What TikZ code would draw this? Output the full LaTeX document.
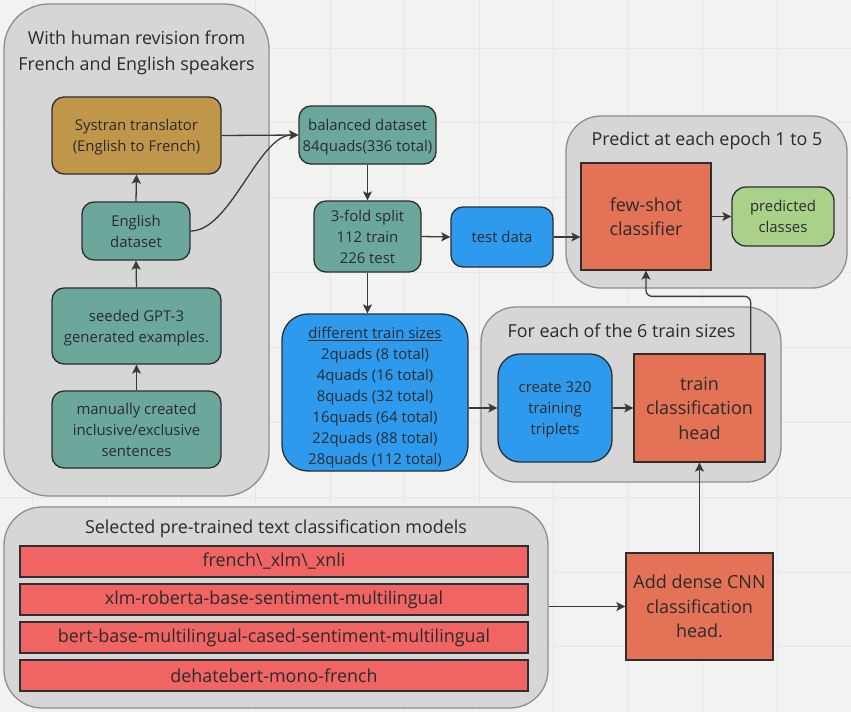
\documentclass[tikz,border=0pt]{standalone}
\usepackage{fontspec}
\setmainfont{Open Sans}
\usetikzlibrary{arrows.meta}
\definecolor{bgc}{HTML}{F2F2F2}
\definecolor{gridc}{HTML}{E6E6E6}
\definecolor{contfill}{HTML}{D6D6D6}
\definecolor{contdraw}{HTML}{8E8E8E}
\definecolor{bord}{HTML}{2E2E2E}
\definecolor{txt}{HTML}{2B2B2B}
\definecolor{arrc}{HTML}{3A3A3A}
\definecolor{teal}{HTML}{6BA89B}
\definecolor{gold}{HTML}{C0974A}
\definecolor{bluec}{HTML}{2D9AEE}
\definecolor{orangec}{HTML}{E47257}
\definecolor{redc}{HTML}{F06464}
\definecolor{greenc}{HTML}{A9D18A}
\newcommand\myfs[2]{\fontsize{#1}{#2}\selectfont}
\begin{document}
\begin{tikzpicture}[x=1pt,y=-1pt,
  cont/.style={draw=contdraw, fill=contfill, line width=1.3pt, rounded corners=40pt, inner sep=0pt},
  ctitle/.style={text=txt, align=center, inner sep=0pt, text depth=0pt, font=\myfs{17.9}{26}},
  box/.style={draw=bord, line width=1.3pt, rounded corners=12pt, inner sep=0pt, text depth=0pt, align=center, text=txt, font=\myfs{14.9}{21}},
  sq/.style={draw=bord, line width=1.3pt, inner sep=0pt, text depth=0pt, align=center, text=txt, font=\myfs{18}{24.5}},
  bar/.style={draw=bord, line width=1.3pt, fill=redc, inner sep=0pt, minimum width=508pt, minimum height=31pt, text=txt, font=\myfs{17.9}{20}},
  arr/.style={-{Stealth[length=9pt,width=9pt,inset=2pt]}, line width=1.3pt, draw=arrc},
  gline/.style={draw=gridc, line width=1pt}]
\useasboundingbox (0,0) rectangle (851,712);
\fill[bgc] (0,0) rectangle (851,712);
\foreach \i in {0,...,11} \draw[gline] ({32+74.5*\i},0) -- ({32+74.5*\i},712);
\foreach \j in {0,...,9} \draw[gline] (0,{48+74.86*\j}) -- (851,{48+74.86*\j});

% containers
\node[cont, minimum width=265pt, minimum height=492pt, rounded corners=45pt] (human) at (136.5,250) {};
\node[ctitle] (humant) at (136.5,51) {With human revision from\\French and English speakers};
\node[cont, minimum width=281pt, minimum height=172pt, rounded corners=35pt] (predc) at (706.5,202) {};
\node[ctitle] (predt) at (707,139) {Predict at each epoch 1 to 5};
\node[cont, minimum width=300pt, minimum height=175pt, rounded corners=35pt] (eachc) at (631,394.5) {};
\node[ctitle] (eacht) at (621.5,331) {For each of the 6 train sizes};
\node[cont, minimum width=544pt, minimum height=201pt, rounded corners=38pt] (models) at (276,607.5) {};
\node[ctitle] (modelst) at (276,527) {Selected pre-trained text classification models};

% left column
\node[box, fill=gold, minimum width=169pt, minimum height=77pt] (sys) at (136.5,135.5) {Systran translator\\(English to French)};
\node[box, fill=teal, minimum width=108pt, minimum height=58pt] (eng) at (136,231) {English\\dataset};
\node[box, fill=teal, minimum width=169pt, minimum height=76pt] (gpt) at (136.5,326) {seeded GPT-3\\generated examples.};
\node[box, fill=teal, minimum width=169pt, minimum height=77pt] (man) at (136.5,429.5) {manually created\\inclusive/exclusive\\sentences};

% middle
\node[box, fill=teal, minimum width=137pt, minimum height=58pt] (bal) at (367.5,135) {balanced dataset\\84quads(336 total)};
\node[box, fill=teal, minimum width=107pt, minimum height=71pt] (split) at (367.5,236.5) {3-fold split\\112 train\\226 test};
\node[box, fill=bluec, minimum width=102pt, minimum height=60pt] (test) at (502,237) {test data};
\node[box, fill=bluec, minimum width=186pt, minimum height=157pt, rounded corners=26pt] (diff) at (375,392.5) {};
\node[box, draw=none, fill=none, rounded corners=0pt] (difft) at (375,396) {\underline{different train sizes}\\2quads (8 total)\\4quads (16 total)\\8quads (32 total)\\16quads (64 total)\\22quads (88 total)\\28quads (112 total)};

% right
\node[sq, fill=orangec, minimum width=130pt, minimum height=107pt] (fsc) at (646,216.5) {few-shot\\classifier};
\node[box, fill=greenc, minimum width=102pt, minimum height=59pt, rounded corners=14pt] (pc) at (783,216.5) {predicted\\classes};
\node[box, fill=bluec, minimum width=114pt, minimum height=108pt, rounded corners=22pt] (create) at (555,408) {create 320\\training\\triplets};
\node[sq, fill=orangec, minimum width=131pt, minimum height=108pt] (tch) at (699.5,408) {train\\classification\\head};
\node[sq, fill=orangec, minimum width=147pt, minimum height=107pt] (add) at (699.5,606.5) {Add dense CNN\\classification\\head.};

% model bars
\node[bar] (m1) at (274,561.5) {french\textbackslash\_xlm\textbackslash\_xnli};
\node[bar] (m2) at (274,599.5) {xlm-roberta-base-sentiment-multilingual};
\node[bar] (m3) at (274,637.5) {bert-base-multilingual-cased-sentiment-multilingual};
\node[bar] (m4) at (274,675.5) {dehatebert-mono-french};

% connectors
\draw[arr] (man.north) -- (gpt.south);
\draw[arr] (gpt.north) -- (eng.south);
\draw[arr] (eng.north) -- (sys.south);
\draw[arr] (sys.east) -- (bal.west);
\draw[arr] (eng.east) .. controls +(40,0) and +(-40,0) .. (bal.west);
\draw[arr] (bal.south) -- (split.north);
\draw[arr] (split.east) -- (test.west);
\draw[arr] (test.east) -- (test.east -| fsc.west);
\draw[arr] (fsc.east) -- (pc.west);
\draw[arr] (split.south) -- (split.south |- diff.north);
\draw[arr] (diff.east |- create.west) -- (create.west);
\draw[arr] (create.east) -- (tch.west);
\draw[arr, rounded corners=6pt] ([xshift=-15pt]tch.north east) -- ++(0,-57) -| (fsc.south);
\draw[arr] (models.east |- add.west) -- (add.west);
\draw[arr] (add.north) -- (tch.south);
\end{tikzpicture}
\end{document}
